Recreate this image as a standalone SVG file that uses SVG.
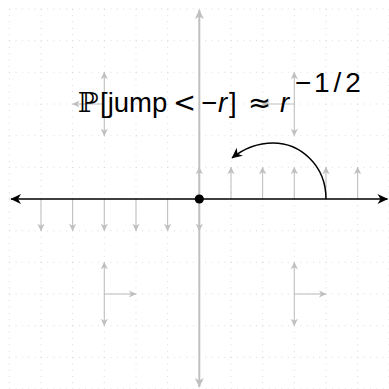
<svg xmlns="http://www.w3.org/2000/svg" width="389" height="389" viewBox="0 0 389 389">
<style>
.grid{stroke:#c8c8c8;stroke-width:0.8;stroke-dasharray:0.8 5.53;fill:none}
.g{stroke:#c0c0c0;stroke-width:1.1;fill:none;marker-end:url(#ag)}
.gd{stroke:#c0c0c0;stroke-width:1.1;fill:none;marker-start:url(#ag);marker-end:url(#ag)}
.lbl{font-family:"Liberation Sans",Arial,sans-serif;fill:#000}
.dv{font-family:"DejaVu Sans",sans-serif}
</style>
<defs>
<marker id="ag" markerUnits="userSpaceOnUse" viewBox="-9 -5 10 10" refX="0" refY="0" markerWidth="10" markerHeight="10" orient="auto-start-reverse"><path d="M0.5,0 L-7,-3.6 L-5,0 L-7,3.6Z" fill="#c0c0c0"/></marker>
<marker id="agb" markerUnits="userSpaceOnUse" viewBox="-11 -6 12 12" refX="0" refY="0" markerWidth="12" markerHeight="12" orient="auto-start-reverse"><path d="M0.5,0 L-9,-4.5 L-6.5,0 L-9,4.5Z" fill="#c0c0c0"/></marker>
<marker id="ak" markerUnits="userSpaceOnUse" viewBox="-12 -6 13 12" refX="0" refY="0" markerWidth="13" markerHeight="12" orient="auto-start-reverse"><path d="M0.5,0 L-10,-5 L-7,0 L-10,5Z" fill="#000"/></marker>
</defs>
<g id="grid">
<path class="grid" d="M9.3,9V389M41,9V389M72.6,9V389M104.3,9V389M136,9V389M167.6,9V389M199.3,9V389M231,9V389M262.6,9V389M294.3,9V389M326,9V389M357.6,9V389M389,9V389"/>
<path class="grid" d="M9.3,9H389M9.3,40.7H389M9.3,72.3H389M9.3,104H389M9.3,135.7H389M9.3,167.3H389M9.3,199H389M9.3,230.7H389M9.3,262.3H389M9.3,294H389M9.3,325.7H389M9.3,357.3H389M9.3,389H389"/>
</g>
<g id="vertical-axis">
<path d="M199.3,387V10" stroke="#c0c0c0" stroke-width="2" fill="none" marker-start="url(#agb)" marker-end="url(#agb)"/>
</g>
<g id="connectors">
<path class="g" d="M41,199V230.7"/>
<path class="g" d="M72.6,199V230.7"/>
<path class="g" d="M104.3,199V230.7"/>
<path class="g" d="M136,199V230.7"/>
<path class="g" d="M167.6,199V230.7"/>
<path class="g" d="M199.3,199V230.7"/>
<path class="g" d="M199.3,199V167.3"/>
<path class="g" d="M231,199V167.3"/>
<path class="g" d="M262.6,199V167.3"/>
<path class="g" d="M294.3,199V167.3"/>
<path class="g" d="M326,199V167.3"/>
<path class="g" d="M357.6,199V167.3"/>
<path class="gd" d="M104.3,135.7V72.3"/>
<path class="g" d="M104.3,104H72.6"/>
<path class="gd" d="M294.3,135.7V72.3"/>
<path class="g" d="M294.3,104H262.6"/>
<path class="gd" d="M104.3,325.7V262.3"/>
<path class="g" d="M104.3,294H136"/>
<path class="gd" d="M294.3,325.7V262.3"/>
<path class="g" d="M294.3,294H326"/>
<path d="M326,199C326,165 300,143 273,143C256,143 242,150 232,158" stroke="#000" stroke-width="1.5" fill="none" marker-end="url(#ak)"/>
</g>
<g id="horizontal-axis">
<path d="M11,199H387.5" stroke="#000" stroke-width="1.6" fill="none" marker-start="url(#ak)" marker-end="url(#ak)"/>
</g>
<g id="origin">
<circle cx="199.3" cy="199" r="4.6" fill="#000"/>
</g>
<g id="label">
<text class="lbl" y="112" font-size="27.5"><tspan x="78" font-family="DejaVu Serif">ℙ</tspan><tspan x="100">[jump</tspan><tspan x="173" class="dv">&lt;</tspan><tspan x="201">−</tspan><tspan x="218" font-style="italic">r</tspan><tspan x="229">]</tspan><tspan x="248" class="dv">≈</tspan><tspan x="280" font-style="italic">r</tspan><tspan y="92" font-size="28"><tspan x="295">−</tspan><tspan x="314" letter-spacing="4">1/2</tspan></tspan></text>
</g>
</svg>
